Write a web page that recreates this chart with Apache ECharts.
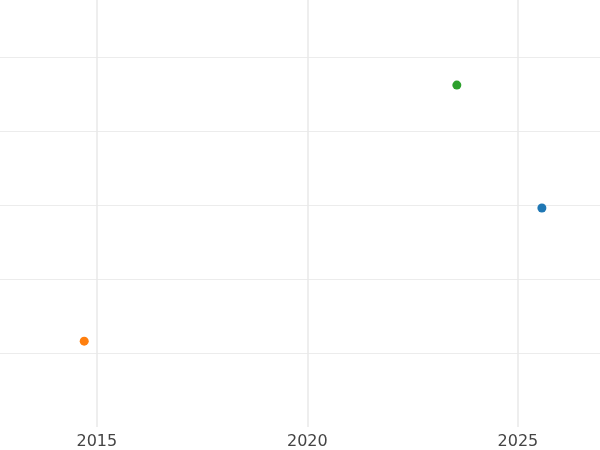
<!DOCTYPE html>
<html>
<head>
<meta charset="utf-8">
<script src="https://cdn.jsdelivr.net/npm/echarts@6/dist/echarts.min.js"></script>
<style>
  html, body { margin: 0; padding: 0; background: #fff; }
  #chart { width: 600px; height: 450px; }
</style>
</head>
<body>
<div id="chart"></div>
<script>
// points: [year, value]
var blueData = [[2025.57, 2.96]];
var orangeData = [[2014.70, 1.16]];
var greenData = [[2023.55, 4.62]];
var yearTicks = [2015, 2020, 2025];

var blue = '#1f77b4';
var orange = '#ff7f0e';
var green = '#2ca02c';

var myChart = echarts.init(document.getElementById('chart'));

function dotSeries(data, color) {
    return {
        type: 'scatter',
        data: data,
        symbolSize: 9,
        itemStyle: { color: color, opacity: 1 },
        silent: true
    };
}

myChart.setOption({
    backgroundColor: '#fff',
    animation: false,
    grid: {
        left: 0,
        right: 0,
        top: 0,
        bottom: 23,
        outerBoundsMode: 'none'
    },
    xAxis: {
        type: 'value',
        min: 2012.7,
        max: 2026.95,
        axisLine: { show: false },
        axisTick: { show: false, customValues: yearTicks },
        axisLabel: {
            customValues: yearTicks,
            formatter: function (v) { return String(v); },
            color: '#444',
            fontFamily: 'DejaVu Sans',
            fontSize: 16,
            margin: 7
        },
        splitLine: {
            show: true,
            lineStyle: { color: '#e8e8e8', width: 1.5 }
        }
    },
    yAxis: {
        type: 'value',
        min: 0,
        max: 5.77,
        interval: 1,
        axisLine: { show: false },
        axisTick: { show: false },
        axisLabel: { show: false },
        splitLine: {
            show: true,
            showMinLine: false,
            showMaxLine: false,
            lineStyle: { color: '#ececec', width: 1 }
        }
    },
    series: [
        dotSeries(blueData, blue),
        dotSeries(orangeData, orange),
        dotSeries(greenData, green)
    ]
});
</script>
</body>
</html>
